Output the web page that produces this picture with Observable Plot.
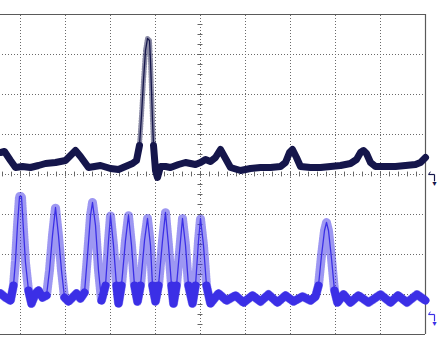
<!DOCTYPE html>
<html>
<head>
<meta charset="utf-8">
<script src="https://cdn.jsdelivr.net/npm/d3@7"></script>
<script src="https://cdn.jsdelivr.net/npm/@observablehq/plot@0.6"></script>
<style>
  html, body { margin: 0; padding: 0; background: #fff; }
  svg { overflow: hidden; display: block; }
</style>
</head>
<body>
<div id="chart"></div>
<script>
// Time in horizontal divisions (0..10), amplitude in vertical divisions (-4..4)
const ch1Time = [0.556,0.644,0.778,0.889,1.044,1.222,1.4,1.556,1.778,2.0,2.111,2.222,2.333,2.511,2.778,3.0,3.178,3.333,3.489,3.578,3.644,3.689,3.733,3.778,3.822,3.867,3.889,3.911,3.933,3.956,4.0,4.044,4.111,4.222,4.333,4.511,4.667,4.778,4.889,5.0,5.111,5.222,5.333,5.444,5.556,5.667,5.889,6.111,6.333,6.556,6.778,6.889,6.978,7.044,7.133,7.222,7.444,7.667,7.889,8.111,8.333,8.467,8.556,8.622,8.689,8.778,8.889,9.111,9.333,9.556,9.778,9.889,10.0];
const ch1Volt = [0.55,0.575,0.35,0.175,0.2,0.175,0.225,0.275,0.3,0.35,0.475,0.6,0.45,0.175,0.225,0.15,0.125,0.2,0.275,0.35,0.725,1.475,2.35,3.1,3.4,3.35,2.85,2.1,1.35,0.725,0.1,-0.075,0.2,0.2,0.175,0.25,0.3,0.275,0.25,0.3,0.375,0.325,0.425,0.625,0.4,0.175,0.1,0.15,0.175,0.175,0.2,0.3,0.55,0.625,0.425,0.2,0.175,0.175,0.2,0.225,0.275,0.375,0.55,0.6,0.525,0.3,0.2,0.2,0.2,0.225,0.25,0.3,0.425];

const ch2Time = [0.556,0.667,0.778,0.844,0.889,0.933,0.978,1.022,1.067,1.111,1.178,1.244,1.333,1.4,1.489,1.578,1.644,1.711,1.778,1.844,1.911,1.978,2.067,2.156,2.244,2.333,2.422,2.489,2.556,2.6,2.667,2.733,2.8,2.889,2.956,3.0,3.067,3.133,3.178,3.244,3.333,3.4,3.467,3.533,3.6,3.667,3.756,3.822,3.889,3.933,4.0,4.067,4.156,4.222,4.289,4.356,4.4,4.467,4.556,4.6,4.667,4.733,4.822,4.889,4.956,5.0,5.067,5.133,5.222,5.311,5.4,5.578,5.778,5.956,6.156,6.333,6.511,6.711,6.889,7.067,7.267,7.444,7.556,7.622,7.689,7.756,7.8,7.844,7.911,7.978,8.044,8.178,8.333,8.511,8.733,9.0,9.222,9.389,9.589,9.811,10.0];
const ch2Volt = [-2.975,-3.075,-3.15,-2.775,-2.15,-1.275,-0.55,-0.55,-1.4,-2.2,-2.9,-3.225,-2.975,-2.9,-3.075,-3.025,-2.4,-1.525,-0.825,-1.525,-2.4,-3.075,-3.175,-3.075,-2.975,-3.1,-2.95,-2.025,-1.025,-0.7,-1.275,-2.4,-3.15,-2.775,-1.65,-1.025,-1.775,-2.775,-3.225,-2.775,-1.65,-1.025,-1.775,-2.775,-3.175,-2.775,-1.65,-1.1,-1.775,-2.775,-3.175,-2.775,-1.65,-0.95,-1.775,-2.775,-3.225,-2.775,-1.65,-1.1,-1.775,-2.775,-3.225,-2.775,-1.65,-1.1,-1.775,-2.775,-3.225,-3.1,-2.975,-3.15,-3.025,-3.2,-3.025,-3.175,-3.0,-3.2,-3.025,-3.175,-3.05,-3.15,-3.05,-2.775,-2.025,-1.4,-1.2,-1.4,-2.1,-2.9,-3.2,-3.0,-3.2,-3.025,-3.2,-3.0,-3.2,-3.025,-3.2,-3.0,-3.15];

const channels = ["CH1", "CH2"];
const channelColors = ["#15164b", "#3b2fe6"];
const groundLevels = [0, -3.5];
// amplitude above which the trace is drawn sparse (fast edges leave few samples)
const sparseAbove = [0.75, -2.65];

const gridX = [1,2,3,4,5,6,7,8,9];
const gridY = [-3,-2,-1,0,1,2,3];
const minorX = d3.range(0, 10.001, 0.2);
const minorY = d3.range(-4, 4.001, 0.25);

const ch1 = ch1Time.map((t, i) => ({t, v: ch1Volt[i]}));
const ch2 = ch2Time.map((t, i) => ({t, v: ch2Volt[i]}));
const grounds = groundLevels.map((g, i) => ({g, c: channelColors[i]}));

function traceMarks(data, k, w, ws) {
  const thr = sparseAbove[k];
  const col = channelColors[k];
  return [
    Plot.line(data, {x: "t", y: "v", stroke: col, strokeWidth: ws, strokeDasharray: "1,1.6", strokeOpacity: 0.5}),
    Plot.line(data, {x: "t", y: "v", stroke: col, strokeWidth: 1.3}),
    Plot.line(data, {x: "t", y: d => (d.v > thr ? NaN : d.v), stroke: col, strokeWidth: w, strokeLinejoin: "round", strokeLinecap: "round"})
  ];
}

const chart = Plot.plot({
  width: 442,
  height: 345,
  x: {domain: [0, 10], range: [-25, 425], axis: null},
  y: {domain: [-4, 4], range: [334, 14], axis: null},
  style: {background: "#fff"},
  marks: [
    Plot.ruleX(gridX, {y1: -4, y2: 4, stroke: "#6a6a6a", strokeDasharray: "1,2", strokeWidth: 1}),
    Plot.ruleY(gridY, {x1: 0, x2: 10, stroke: "#6a6a6a", strokeDasharray: "1,2", strokeWidth: 1}),
    Plot.ruleX(minorX, {y1: -0.06, y2: 0.06, stroke: "#666", strokeWidth: 1}),
    Plot.ruleY(minorY, {x1: 4.945, x2: 5.055, stroke: "#666", strokeWidth: 1}),
    Plot.ruleY([4, -4], {x1: 0, x2: 10, stroke: "#5a5a5a", strokeWidth: 1.2}),
    Plot.ruleX([10], {y1: -4, y2: 4, stroke: "#5a5a5a", strokeWidth: 1.2}),
    ...traceMarks(ch1, 0, 7, 5),
    ...traceMarks(ch2, 1, 8, 9),
    // ground markers
    Plot.link(grounds, {x1: 10.067, x2: 10.2, y1: "g", y2: "g", stroke: "c", strokeWidth: 1.2}),
    Plot.link(grounds, {x1: 10.2, x2: 10.2, y1: "g", y2: d => d.g - 0.17, stroke: "c", strokeWidth: 1.2}),
    Plot.link(grounds, {x1: 10.067, x2: 10.11, y1: "g", y2: d => d.g + 0.07, stroke: "c", strokeWidth: 1}),
    Plot.text(grounds, {x: 10.2, y: d => d.g - 0.2, text: () => "▼", fill: "c", fontSize: 7, dy: 1})
  ]
});
document.getElementById("chart").append(chart);
</script>
</body>
</html>
